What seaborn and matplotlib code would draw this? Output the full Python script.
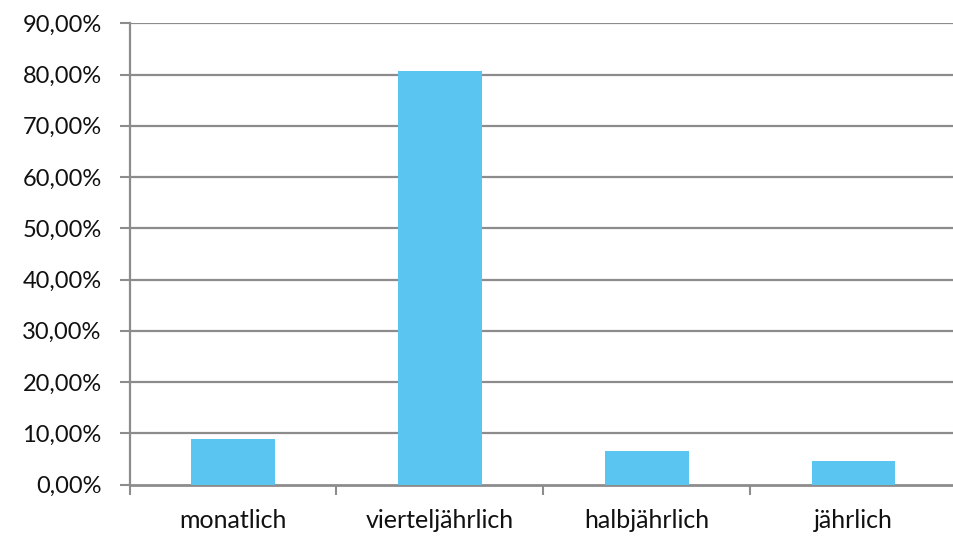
import matplotlib
matplotlib.use("Agg")
import matplotlib.pyplot as plt
from matplotlib.ticker import FuncFormatter, FixedLocator
import seaborn as sns
import pandas as pd

categories = ["monatlich", "vierteljährlich", "halbjährlich", "jährlich"]
values = [8.88, 80.7, 6.54, 4.59]
yticks = [0, 10, 20, 30, 40, 50, 60, 70, 80, 90]

sns.set_theme(style="white")
plt.rcParams['font.family'] = ['Lato', 'DejaVu Sans']

W, H = 954, 536
fig = plt.figure(figsize=(W / 100, H / 100), dpi=100)
left, right, bottom, top = 129.5, 957, 484.5, 23.3
ax = fig.add_axes([left / W, (H - bottom) / H, (right - left) / W, (bottom - top) / H])

df = pd.DataFrame({"cat": categories, "val": values})
sns.barplot(data=df, x="cat", y="val", color="#5BC5F2", saturation=1, width=0.405,
            linewidth=0, ax=ax, zorder=3)

grid_c = "#8c8c8c"
ax.set_ylim(0, 90)
ax.set_xlim(-0.5, len(categories) - 0.5)
ax.set_yticks(yticks)
ax.yaxis.set_major_formatter(FuncFormatter(lambda v, p: f"{v:.2f}%".replace(".", ",")))
for y in yticks[1:]:
    ax.axhline(y, color=grid_c, lw=1.6, zorder=1)

for s in ["top", "right"]:
    ax.spines[s].set_visible(False)
ax.spines["left"].set_color(grid_c)
ax.spines["left"].set_linewidth(1.6)
ax.spines["bottom"].set_color(grid_c)
ax.spines["bottom"].set_linewidth(2)

ax.tick_params(axis="y", length=7, width=1.5, color=grid_c, pad=13, labelsize=17, labelcolor="#111111", left=True)
ax.tick_params(axis="x", which="major", length=0, pad=18, labelsize=18, labelcolor="#111111")
ax.xaxis.set_minor_locator(FixedLocator([i - 0.5 for i in range(len(categories) + 1)]))
ax.tick_params(axis="x", which="minor", length=7, width=1.5, color=grid_c, bottom=True)
ax.set_xlabel("")
ax.set_ylabel("")

fig.savefig("out.png", dpi=100)
